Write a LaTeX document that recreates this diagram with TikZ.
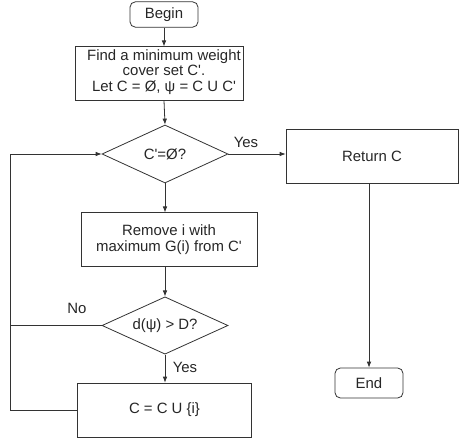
\documentclass[tikz,border=0pt]{standalone}
\usepackage{fontspec}
\setmainfont{Liberation Sans}[Ligatures=TeXOff]
\usepackage{tikz}
\usetikzlibrary{shapes.geometric, arrows.meta}

\tikzset{
  flowbox/.style={draw=black!80, line width=0.6pt, rectangle, inner sep=0pt, align=center},
  roundbox/.style={flowbox, rounded corners=4pt},
  decision/.style={draw=black!80, line width=0.6pt, diamond, inner sep=0pt, aspect=2.2},
  arr/.style={draw=black!80, line width=0.6pt, -{Latex[length=4.5pt,width=3.5pt]}},
  ln/.style={draw=black!80, line width=0.6pt}
}

\begin{document}
\begin{tikzpicture}[x=0.75pt,y=0.75pt,yscale=-1,xscale=1,
  every node/.append style={font=\fontsize{11.2}{11.8}\selectfont, text=black!85}]
            \useasboundingbox (0,0) rectangle (459,442);

            % Nodes
            \node [roundbox, minimum width=51pt, minimum height=19pt] (begin) at (164,14.5) {Begin};
            \node [flowbox, minimum width=126pt, minimum height=40pt] (findbox) at (159,73.5) {};
            \node [align=center, inner sep=0pt] (find) at (164,72) {Find a minimum weight\\cover set C'.\\Let C = Ø, ψ = C U C'};
            \node [decision, minimum width=94.5pt, minimum height=43.5pt] (dec1) at (165,154) {C'=Ø?};
            \node [flowbox, minimum width=129pt, minimum height=40.5pt] (ret) at (372,156) {Return C};
            \node [flowbox, minimum width=132pt, minimum height=40pt] (remove) at (169,239.5) {Remove i with\\maximum G(i) from C'};
            \node [decision, minimum width=94.5pt, minimum height=43pt] (dec2) at (165,325.5) {d(ψ) > D?};
            \node [flowbox, minimum width=131pt, minimum height=40.5pt] (upd) at (164.5,410) {C = C U \{i\}};
            \node [roundbox, minimum width=51pt, minimum height=22.5pt] (end) at (369,383) {End};
            \coordinate (loop) at (10,154);

            % Lines
            \draw [arr] (begin) -- (begin |- findbox.north);
            \draw [arr] (begin |- findbox.south) -- (dec1.north);
            \draw [arr] (dec1.east) -- (dec1.east -| ret.west);
            \draw [arr] (dec1.south) -- (dec1.south |- remove.north);
            \draw [arr] (dec1.south |- remove.south) -- (dec2.north);
            \draw [arr] (dec2.south) -- (dec2.south |- upd.north);
            \draw [ln] (dec2.west) -- (dec2.west -| loop);
            \draw [arr] (upd.west) -| (loop) -- (dec1.west);
            \draw [arr] (end.north |- ret.south) -- (end.north);

            % Labels
            \node [inner sep=0pt] (yes1) at (246,142) {Yes};
            \node [inner sep=0pt] (no) at (77,308) {No};
            \node [inner sep=0pt] (yes2) at (185,367) {Yes};

\end{tikzpicture}
\end{document}
